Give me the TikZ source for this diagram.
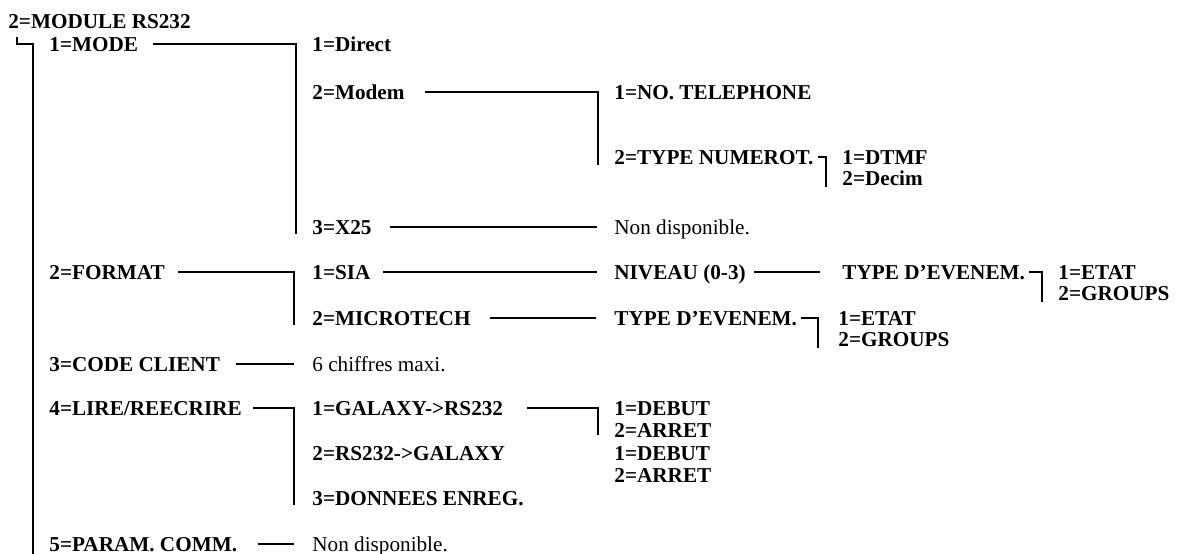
\documentclass[tikz,border=0pt]{standalone}
\usepackage{fontspec}
\setmainfont{Liberation Serif}
\usetikzlibrary{calc}
\tikzset{
    item/.style={
        anchor=base west,inner sep=0pt,text height=6.95pt,text depth=0pt,
        font=\fontsize{10.6}{12}\selectfont\bfseries
    },
    note/.style={
        item,font=\fontsize{10.6}{12}\selectfont
    },
    link/.style={
        line width=1.2pt,line cap=butt
    }
}

\begin{document}
\begin{tikzpicture}[x=0.5pt,y=-0.5pt]

\useasboundingbox (0,0) rectangle (1181,553);

\node[item] (title) at (8,28) {2=MODULE RS232};

\node[item] (mode) at (49,51) {1=MODE};
\node[item] (direct) at (312,51) {1=Direct};
\node[item] (modem) at (312,99) {2=Modem};
\node[item] (tel) at (614,99) {1=NO. TELEPHONE};
\node[item] (numerot) at (614,164) {2=TYPE NUMEROT.};
\node[item] (dtmf) at (842,164) {1=DTMF};
\node[item] (decim) at (842,185) {2=Decim};
\node[item] (x25) at (312,234) {3=X25};
\node[note] (nondispA) at (614,234) {Non disponible.};

\node[item] (format) at (49,279) {2=FORMAT};
\node[item] (sia) at (312,279) {1=SIA};
\node[item] (niveau) at (614,279) {NIVEAU (0-3)};
\node[item] (evenA) at (842,279) {TYPE D'EVENEM.};
\node[item] (etatA) at (1058,279) {1=ETAT};
\node[item] (groupsA) at (1058,300) {2=GROUPS};
\node[item] (microtech) at (312,325) {2=MICROTECH};
\node[item] (evenB) at (614,325) {TYPE D'EVENEM.};
\node[item] (etatB) at (838,325) {1=ETAT};
\node[item] (groupsB) at (838,346) {2=GROUPS};

\node[item] (code) at (49,371) {3=CODE CLIENT};
\node[note] (chiffres) at (312,371) {6 chiffres maxi.};

\node[item] (lire) at (49,415) {4=LIRE/REECRIRE};
\node[item] (galaxy) at (312,415) {1=GALAXY->RS232};
\node[item] (debutA) at (614,415) {1=DEBUT};
\node[item] (arretA) at (614,437) {2=ARRET};
\node[item] (rsgal) at (312,460) {2=RS232->GALAXY};
\node[item] (debutB) at (614,460) {1=DEBUT};
\node[item] (arretB) at (614,482) {2=ARRET};
\node[item] (donnees) at (312,505) {3=DONNEES ENREG.};

\node[item] (param) at (49,551) {5=PARAM. COMM.};
\node[note] (nondispB) at (312,551) {Non disponible.};

\draw[link] ($(title.south west)+(9,9)$) |- ($(mode.west)+(-16,0)$)
    -- ($(param.south west)+(-16,12)$);

\draw[link] ($(mode.east)+(15,0)$) -| ($(x25.south west)+(-16,0)$);
\draw[link] ($(modem.east)+(20,0)$) -| ($(numerot.south west)+(-16,1)$);
\draw[link] ($(numerot.east)+(4,0)$) -| ($(decim.south west)+(-16,2)$);
\draw[link] ($(x25.east)+(18,0)$) -- ($(nondispA.west)+(-17,0)$);

\draw[link] ($(format.east)+(13,0)$) -| ($(microtech.south west)+(-18,0)$);
\draw[link] ($(sia.east)+(12,0)$) -- ($(niveau.west)+(-17,0)$);
\draw[link] ($(niveau.east)+(8,0)$) -- ($(evenA.west)+(-22,0)$);
\draw[link] ($(evenA.east)+(4,0)$) -| ($(groupsA.south west)+(-16,2)$);
\draw[link] ($(microtech.east)+(19,0)$) -- ($(evenB.west)+(-18,0)$);
\draw[link] ($(evenB.east)+(4,0)$) -| ($(groupsB.south west)+(-20,2)$);

\draw[link] ($(code.east)+(16,0)$) -- ($(chiffres.west)+(-18,0)$);

\draw[link] ($(lire.east)+(11,0)$) -| ($(donnees.south west)+(-18,0)$);
\draw[link] ($(galaxy.east)+(24,0)$) -| ($(arretA.south west)+(-16,-2)$);

\draw[link] ($(param.east)+(20,0)$) -- ($(nondispB.west)+(-18,0)$);

\end{tikzpicture}
\end{document}
